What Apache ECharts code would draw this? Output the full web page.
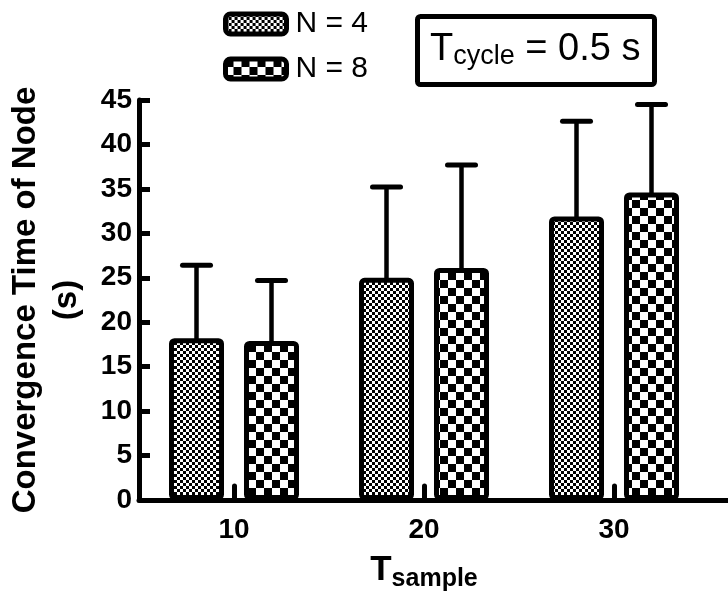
<!DOCTYPE html>
<html><head><meta charset="utf-8">
<script src="https://cdn.jsdelivr.net/npm/echarts@6/dist/echarts.min.js"></script>
<style>html,body{margin:0;padding:0;background:#fff}#c{width:728px;height:592px}</style>
</head><body><div id="c"></div>
<script>
// ---- data ----
const categories = ['10', '20', '30'];
const seriesNames = ['N = 4', 'N = 8'];
const meanN4 = [18.2, 25.0, 31.9];
const upperN4 = [26.4, 35.2, 42.6];
const meanN8 = [17.9, 26.1, 34.6];
const upperN8 = [24.7, 37.7, 44.5];
const yMin = 0, yMax = 45, yStep = 5;

// ---- styles ----
const FONT = "'Liberation Sans', Arial, Helvetica, sans-serif";
const BAR_W = 55, BAR_GAP_PX = 20, CAP_W = 28;

function checker(cell) {
  const c = document.createElement('canvas');
  c.width = c.height = cell * 2;
  const g = c.getContext('2d');
  g.fillStyle = '#fff'; g.fillRect(0, 0, cell * 2, cell * 2);
  g.fillStyle = '#000';
  g.fillRect(0, 0, cell, cell); g.fillRect(cell, cell, cell, cell);
  return c;
}
const fineFill = { image: checker(3), repeat: 'repeat' };
const coarseFill = { image: checker(8), repeat: 'repeat' };

function barSeries(name, data, fill) {
  return {
    type: 'bar', name: name, data: data, barWidth: BAR_W,
    barGap: (BAR_GAP_PX / BAR_W * 100).toFixed(2) + '%',
    xAxisIndex: 0, yAxisIndex: 0, z: 3,
    itemStyle: { color: fill, borderColor: '#000', borderWidth: 5, borderRadius: 3 },
    emphasis: { disabled: true }
  };
}
function errSeries(means, uppers, side) {
  return {
    type: 'custom', xAxisIndex: 0, yAxisIndex: 0, z: 2, silent: true,
    data: means.map((m, i) => [i, m, uppers[i]]),
    renderItem(params, api) {
      const base = api.coord([api.value(0), api.value(1)]);
      const top = api.coord([api.value(0), api.value(2)]);
      const x = base[0] + side * (BAR_W + BAR_GAP_PX) / 2;
      return { type: 'group', children: [
        { type: 'line', shape: { x1: x, y1: base[1] + 3, x2: x, y2: top[1] }, style: { stroke: '#000', lineWidth: 4.5 } },
        { type: 'line', shape: { x1: x - CAP_W / 2, y1: top[1], x2: x + CAP_W / 2, y2: top[1] }, style: { stroke: '#000', lineWidth: 5, lineCap: 'round' } }
      ]};
    }
  };
}

const chart = echarts.init(document.getElementById('c'), null, { renderer: 'canvas' });
chart.setOption({
  animation: false,
  backgroundColor: '#fff',
  textStyle: { fontFamily: FONT },
  title: {
    text: '{t|T}{s|cycle}{t| = 0.5 s}',
    left: 417, top: 17,
    padding: [13, 14, 14, 13],
    borderColor: '#000', borderWidth: 5, borderRadius: 3,
    textStyle: {
      fontWeight: 'normal',
      rich: {
        t: { fontSize: 38, lineHeight: 40, fontWeight: 'normal', color: '#000', fontFamily: FONT },
        s: { fontSize: 27, lineHeight: 27, padding: [14, 0, 0, 0], fontWeight: 'normal', color: '#000', fontFamily: FONT }
      }
    }
  },
  legend: {
    data: seriesNames, orient: 'vertical', left: 223, top: 9, padding: 0,
    itemWidth: 61, itemHeight: 20, itemGap: 15, icon: 'roundRect',
    itemStyle: { borderColor: '#000', borderWidth: 5 },
    textStyle: { fontSize: 30, lineHeight: 30, color: '#000', fontFamily: FONT, padding: [0, 0, 0, 4] },
    selectedMode: false
  },
  grid: [
    { left: 139, top: 100, width: 570, bottom: 92, outerBoundsMode: 'none', containLabel: false },
    { left: 139, top: 100, right: 0, bottom: 92, outerBoundsMode: 'none', containLabel: false }
  ],
  xAxis: [
    {
      type: 'category', gridIndex: 0, data: categories,
      axisLine: { show: false },
      axisTick: { show: true, inside: true, alignWithLabel: true, length: 14, lineStyle: { color: '#000', width: 5, cap: 'round' } },
      axisLabel: { fontSize: 28, fontWeight: 'bold', color: '#000', margin: 16, fontFamily: FONT },
      name: '{t|T}{s|sample}', nameLocation: 'middle', nameGap: 50,
      nameTextStyle: {
        rich: {
          t: { fontSize: 35, lineHeight: 34, fontWeight: 'bold', color: '#000', fontFamily: FONT },
          s: { fontSize: 25, lineHeight: 24, padding: [18, 0, 0, 0], fontWeight: 'bold', color: '#000', fontFamily: FONT }
        }
      }
    },
    {
      type: 'value', gridIndex: 1, min: 0, max: 1,
      axisLine: { show: true, onZero: false, lineStyle: { color: '#000', width: 5 } },
      axisTick: { show: false }, axisLabel: { show: false }, splitLine: { show: false }
    }
  ],
  yAxis: [
    {
      type: 'value', gridIndex: 0, min: yMin, max: yMax, interval: yStep,
      axisLine: { show: true, lineStyle: { color: '#000', width: 5 } },
      axisTick: { show: true, inside: true, length: 11, lineStyle: { color: '#000', width: 5 } },
      axisLabel: { fontSize: 28, fontWeight: 'bold', color: '#000', margin: 7, fontFamily: FONT },
      splitLine: { show: false },
      name: 'Convergence Time of Node\n(s)', nameLocation: 'middle', nameGap: 52, nameRotate: 90,
      nameTextStyle: { fontSize: 33, fontWeight: 'bold', lineHeight: 41, color: '#000', align: 'center', fontFamily: FONT }
    },
    { type: 'value', gridIndex: 1, min: 0, max: 1, show: false }
  ],
  series: [
    errSeries(meanN4, upperN4, -1),
    errSeries(meanN8, upperN8, 1),
    barSeries(seriesNames[0], meanN4, fineFill),
    barSeries(seriesNames[1], meanN8, coarseFill)
  ]
});
</script>
</body></html>
